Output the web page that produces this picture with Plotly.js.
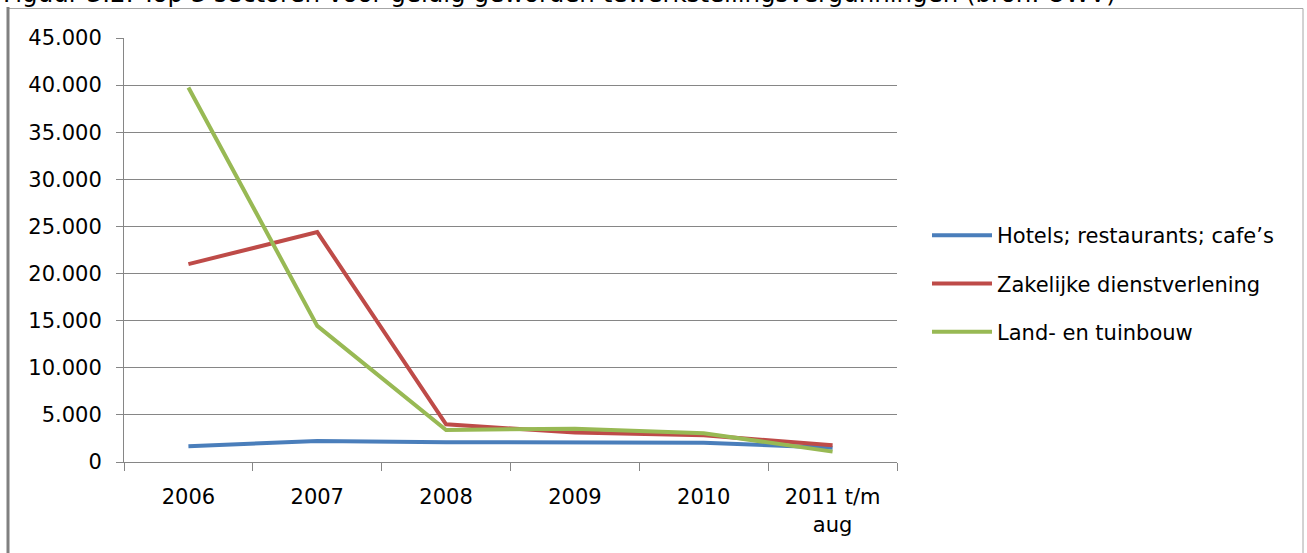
<!DOCTYPE html>
<html>
<head>
<meta charset="utf-8">
<script src="https://cdn.plot.ly/plotly-3.0.1.min.js"></script>
<style>
html,body{margin:0;padding:0;background:#fff;overflow:hidden;}
#chart{width:1307px;height:553px;}
</style>
</head>
<body>
<div id="chart"></div>
<script>
// ---- data ----
const years = ["2006", "2007", "2008", "2009", "2010", "2011 t/m<br>aug"];
const hotels = [1670, 2230, 2100, 2050, 2050, 1520];
const zakelijk = [21000, 24400, 4000, 3120, 2840, 1780];
const landbouw = [39750, 14450, 3400, 3540, 3050, 1100];
const seriesNames = ["Hotels; restaurants; cafe\u2019s", "Zakelijke dienstverlening", "Land- en tuinbouw"];
const seriesColors = ["#4A7EBB", "#BE4B48", "#98B954"];
const titleText = "Figuur 3.2: Top 3 sectoren voor geldig geworden tewerkstellingsvergunningen (bron: UWV)";
const yTickVals = [0, 5000, 10000, 15000, 20000, 25000, 30000, 35000, 40000, 45000];

// ---- layout geometry ----
const W = 1307, H = 553;
const M = {l: 124, r: W - 897, t: 38, b: H - 462};
const PW = W - M.l - M.r, PH = H - M.t - M.b;
const px = x => (x - M.l) / PW;
const py = y => (H - M.b - y) / PH;
const font = "DejaVu Sans, Verdana, sans-serif";

const values = [hotels, zakelijk, landbouw];
const traces = values.map((v, i) => ({
  x: years, y: v, type: "scatter", mode: "lines",
  name: seriesNames[i], legendgroup: "g" + i,
  line: {color: seriesColors[i], width: 4},
  hoverinfo: "x+y+name"
}));

const layout = {
  width: W, height: H,
  margin: M,
  paper_bgcolor: "#ffffff", plot_bgcolor: "#ffffff",
  separators: ",.",
  font: {family: font, size: 21, color: "#000000"},
  showlegend: true,
  legend: {
    x: px(927), y: py(215), xanchor: "left", yanchor: "top",
    xref: "paper", yref: "paper",
    font: {family: font, size: 21, color: "#000000"},
    traceorder: "grouped", tracegroupgap: 18,
    itemwidth: 60, bgcolor: "rgba(0,0,0,0)"
  },
  xaxis: {
    type: "category", range: [-0.5, 5.5],
    tickson: "boundaries", ticks: "outside", ticklen: 8, tickcolor: "#868686", tickwidth: 1,
    showline: true, linecolor: "#868686", linewidth: 1,
    showgrid: false, zeroline: false,
    tickfont: {family: font, size: 21, color: "#000"},
    ticklabelstandoff: 16, fixedrange: true
  },
  yaxis: {
    range: [0, 45000], tickvals: yTickVals, tickformat: ",d",
    ticks: "outside", ticklen: 7, tickcolor: "#868686", tickwidth: 1,
    showline: true, linecolor: "#868686", linewidth: 1,
    showgrid: true, gridcolor: "#868686", gridwidth: 1, zeroline: false,
    tickfont: {family: font, size: 21, color: "#000"},
    ticklabelstandoff: 10, fixedrange: true
  },
  shapes: [
    {type: "rect", xref: "paper", yref: "paper", x0: px(8), x1: px(1303), y0: py(8.5), y1: py(600),
     line: {color: "#a6a6a6", width: 1}, fillcolor: "rgba(0,0,0,0)", layer: "below"},
    {type: "line", xref: "paper", yref: "paper", x0: px(8), x1: px(8), y0: py(7), y1: py(600),
     line: {color: "#808080", width: 3}}
  ],
  annotations: [
    {text: titleText, xref: "paper", yref: "paper", x: px(1), y: py(-6), xanchor: "left", yanchor: "middle",
     showarrow: false, font: {family: font, size: 24.5, color: "#000"}}
  ]
};

Plotly.newPlot("chart", traces, layout, {displayModeBar: false});
</script>
</body>
</html>
